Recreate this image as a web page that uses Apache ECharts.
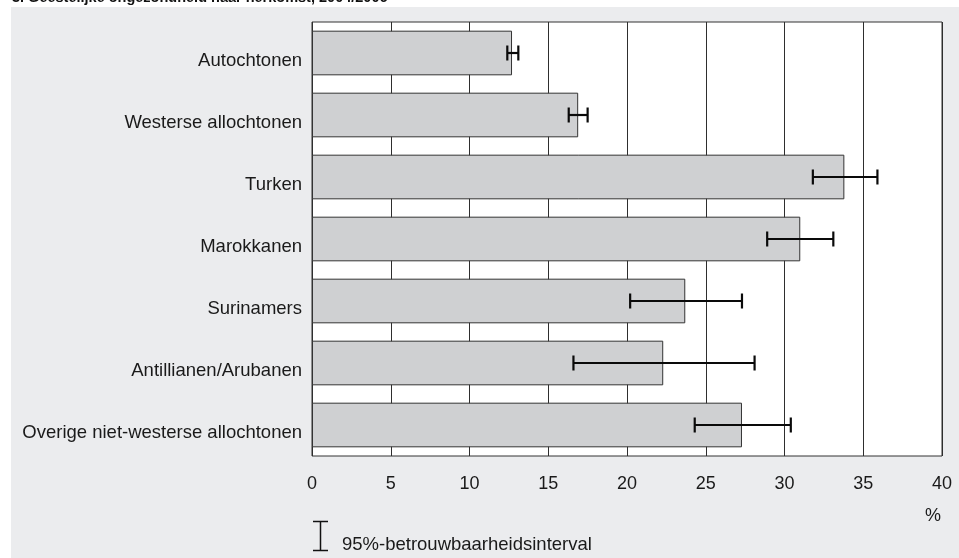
<!DOCTYPE html>
<html>
<head>
<meta charset="utf-8">
<script src="https://cdn.jsdelivr.net/npm/echarts@6/dist/echarts.min.js"></script>
<style>
  html, body { margin: 0; padding: 0; background: #ffffff; }
  #chart { width: 959px; height: 558px; }
</style>
</head>
<body>
<div id="chart"></div>
<script>
// Herkomstgroepen, van boven naar beneden
const categories = [
  'Autochtonen',
  'Westerse allochtonen',
  'Turken',
  'Marokkanen',
  'Surinamers',
  'Antillianen/Arubanen',
  'Overige niet-westerse allochtonen'
];
// Percentage geestelijk ongezond
const values = [12.7, 16.9, 33.8, 31.0, 23.7, 22.3, 27.3];
// 95%-betrouwbaarheidsinterval: onder- en bovengrens
const ciLow  = [12.4, 16.3, 31.8, 28.9, 20.2, 16.6, 24.3];
const ciHigh = [13.1, 17.5, 35.9, 33.1, 27.3, 28.1, 30.4];
// Asverdeling
const axisMin = 0, axisMax = 40, axisStep = 5;

const FONT = '"Liberation Sans", Arial, Helvetica, sans-serif';

const errorData = categories.map((c, i) => [ciLow[i], ciHigh[i], i]);

const chart = echarts.init(document.getElementById('chart'), null, { renderer: 'canvas' });

chart.setOption({
  backgroundColor: '#ebecee',
  animation: false,
  textStyle: { fontFamily: FONT },
  grid: {
    left: 312, right: 17, top: 22, bottom: 102,
    show: true,
    backgroundColor: '#ffffff',
    borderColor: '#333333',
    borderWidth: 1
  },
  xAxis: {
    type: 'value',
    min: axisMin, max: axisMax, interval: axisStep,
    axisLine: { show: false },
    axisTick: { show: false },
    splitLine: { show: true, lineStyle: { color: '#2e2e2e', width: 1 } },
    axisLabel: { color: '#1a1a1a', fontSize: 18, fontFamily: FONT, margin: 19 }
  },
  yAxis: {
    type: 'category',
    data: categories,
    inverse: true,
    axisLine: { show: false },
    axisTick: { show: false },
    splitLine: { show: false },
    axisLabel: {
      color: '#1a1a1a', fontSize: 18.5, fontFamily: FONT, margin: 10,
      verticalAlign: 'top', lineHeight: 15
    }
  },
  series: [
    {
      type: 'bar',
      data: values,
      barCategoryGap: '28%',
      itemStyle: { color: '#cfd0d2', borderColor: '#333333', borderWidth: 1 },
      z: 2
    },
    {
      type: 'custom',
      data: errorData,
      encode: { x: [0, 1], y: 2 },
      z: 3,
      renderItem: function (params, api) {
        const idx = api.value(2);
        const p0 = api.coord([api.value(0), idx]);
        const p1 = api.coord([api.value(1), idx]);
        const h = 7.5;
        const style = { stroke: '#0a0a0a', lineWidth: 2.2, fill: null };
        return {
          type: 'group',
          children: [
            { type: 'line', shape: { x1: p0[0], y1: p0[1], x2: p1[0], y2: p1[1] }, style: style },
            { type: 'line', shape: { x1: p0[0], y1: p0[1] - h, x2: p0[0], y2: p0[1] + h }, style: style },
            { type: 'line', shape: { x1: p1[0], y1: p1[1] - h, x2: p1[0], y2: p1[1] + h }, style: style }
          ]
        };
      }
    }
  ],
  graphic: [
    // witte rand boven en links
    { type: 'rect', left: 0, top: 0, shape: { width: 959, height: 7 }, style: { fill: '#ffffff' }, z: 1 },
    { type: 'rect', left: 0, top: 0, shape: { width: 11, height: 558 }, style: { fill: '#ffffff' }, z: 1 },
    // titel
    {
      type: 'text', x: 12, y: 5, z: 2,
      style: {
        text: '3. Geestelijke ongezondheid naar herkomst, 2004/2006',
        fill: '#111111',
        font: 'bold 14.5px ' + FONT,
        textVerticalAlign: 'bottom'
      }
    },
    { type: 'rect', left: 11, top: 7, shape: { width: 948, height: 14 }, style: { fill: '#ebecee' }, z: 3 },
    // eenheid
    {
      type: 'text', x: 941, y: 516, z: 4,
      style: { text: '%', fill: '#1a1a1a', font: '18px ' + FONT, textAlign: 'right', textVerticalAlign: 'middle' }
    },
    // legenda: symbool voor het betrouwbaarheidsinterval
    {
      type: 'group', z: 4,
      children: [
        { type: 'line', shape: { x1: 320.5, y1: 521.5, x2: 320.5, y2: 550.5 }, style: { stroke: '#111111', lineWidth: 1.5 } },
        { type: 'line', shape: { x1: 313, y1: 521.5, x2: 328, y2: 521.5 }, style: { stroke: '#111111', lineWidth: 1.5 } },
        { type: 'line', shape: { x1: 313, y1: 550.5, x2: 328, y2: 550.5 }, style: { stroke: '#111111', lineWidth: 1.5 } }
      ]
    },
    {
      type: 'text', x: 342, y: 545, z: 4,
      style: { text: '95%-betrouwbaarheidsinterval', fill: '#1a1a1a', font: '18.5px ' + FONT, textVerticalAlign: 'middle' }
    }
  ]
});
</script>
</body>
</html>
